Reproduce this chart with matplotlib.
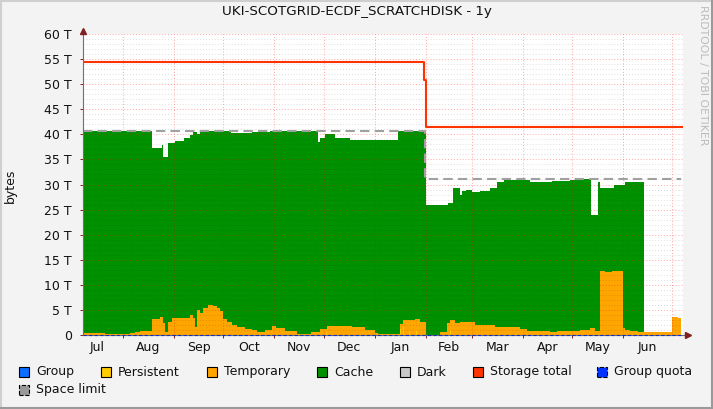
import matplotlib
matplotlib.use('Agg')
import matplotlib.pyplot as plt
from matplotlib.patches import Rectangle
from matplotlib.lines import Line2D

# x values are days counted from 1 Jul (one year window)
months = ['Jul', 'Aug', 'Sep', 'Oct', 'Nov', 'Dec', 'Jan', 'Feb', 'Mar', 'Apr', 'May', 'Jun']
month_start = [0, 31, 62, 92, 123, 153, 184, 215, 243, 274, 304, 335, 365]
month_mid = [15.5, 46.5, 77, 107.5, 138, 168.5, 199.5, 229, 258.5, 289, 319.5, 350]

# top of the Cache area (Cache stacked on Temporary), in T
cache_days = [6.7, 48.7, 54.7, 55.3, 58.4, 62.6, 68.1, 71.8, 73.6, 76.0, 77.8, 79.7, 96.7,
              109.4, 120.4, 149.6, 150.8, 153.8, 159.9, 169.0, 198.2, 215.2, 228.6, 231.7,
              235.9, 237.1, 239.6, 243.2, 248.1, 254.2, 258.4, 262.7, 278.5, 291.8, 302.8,
              308.8, 315.5, 319.8, 321.0, 329.5, 336.2, 347.7]
cache_top = [40.7, 37.3, 37.9, 35.5, 38.3, 38.7, 39.3, 39.9, 40.5, 40.1, 40.5, 40.7, 40.3,
             40.5, 40.7, 38.5, 39.3, 40.1, 39.3, 38.9, 40.7, 25.9, 26.3, 29.3,
             27.9, 28.7, 28.9, 28.5, 28.7, 29.3, 30.5, 30.9, 30.5, 30.7, 30.9,
             31.1, 23.9, 30.5, 29.3, 29.9, 30.5, 0.0]

# top of the Temporary area, in T
temp_days = [6.7, 20.1, 35.3, 38.3, 41.4, 47.4, 48.7, 53.5, 55.3, 56.6, 58.4, 60.8, 71.8,
             73.6, 74.8, 76.0, 77.8, 79.7, 82.7, 85.7, 88.2, 90.0, 91.8, 94.3, 97.3, 100.3,
             105.2, 109.4, 112.5, 117.3, 121.6, 124.0, 129.5, 136.8, 138.6, 145.3, 150.8,
             155.0, 162.9, 170.2, 178.1, 184.2, 186.0, 199.4, 201.3, 208.6, 211.6, 215.2,
             223.8, 228.0, 229.8, 232.9, 235.9, 245.0, 257.2, 263.3, 272.4, 276.7, 290.6,
             294.9, 302.8, 308.8, 314.9, 317.9, 321.0, 324.0, 328.3, 335.0, 336.2, 339.2,
             344.1, 364.7, 368.4, 370.2]
temp_top = [0.35, 0.15, 0.3, 0.6, 0.7, 0.8, 3.2, 3.6, 2.4, 0.6, 2.6, 3.4, 4.0,
            3.4, 1.6, 5.0, 4.4, 5.4, 6.0, 5.8, 5.4, 4.8, 3.2, 2.6, 2.0, 1.6,
            1.2, 1.0, 0.6, 1.0, 1.8, 1.4, 0.8, 0.2, 0.1, 0.6, 1.2,
            1.7, 1.8, 1.6, 1.0, 0.4, 0.2, 2.2, 3.0, 3.2, 2.6, 0.05,
            0.6, 2.4, 3.0, 2.4, 2.6, 2.0, 1.6, 1.5, 1.2, 0.7, 0.5,
            0.8, 0.7, 1.0, 1.4, 0.8, 12.8, 12.6, 12.8, 1.4, 1.0, 0.8,
            0.6, 3.6, 3.4, 0.0]

# Persistent slivers
pers_days = [154.5, 155.0, 199.4, 200.0, 201.3, 201.9, 205.0, 205.6, 209.0, 209.6, 229.8, 230.4]
pers_vals = [0.6, 0.0, 1.2, 0.0, 1.5, 0.0, 0.8, 0.0, 1.0, 0.0, 1.0, 0.0]

total_days = [6.7, 214.0, 215.2, 371.0]
total_vals = [54.5, 50.8, 41.5, 41.5]

limit_days = [6.7, 214.6, 370.0]
limit_vals = [40.7, 31.1, 31.1]

W, H = 713, 409
bg = '#F3F3F3'
fig = plt.figure(figsize=(W / 100, H / 100), dpi=100, facecolor=bg)
ax = fig.add_axes([83 / W, 1 - 335 / H, 600 / W, 301 / H])
ax.set_facecolor('white')
ax.set_xlim(6.7, 371.4)
ax.set_ylim(0, 60)
for s in ax.spines.values():
    s.set_visible(False)

ax.fill_between(cache_days, 0, cache_top, step='post', color='#009100', lw=0, zorder=1)
ax.fill_between(temp_days, 0, temp_top, step='post', color='#FFA500', lw=0, zorder=1.2)
ax.fill_between(pers_days, 0, pers_vals, step='post', color='#FFCC00', lw=0, zorder=1.3)

# grid
for v in range(1, 61):
    if v % 5:
        ax.axhline(v, color=(0, 0, 0, 0.13), lw=0.7, ls=(0, (1, 2)), zorder=2)
    else:
        ax.axhline(v, color=(1, 0, 0, 0.35), lw=0.7, ls=(0, (1, 2)), zorder=2)
for d in month_start[1:]:
    ax.axvline(d, color=(1, 0, 0, 0.35), lw=0.7, ls=(0, (1, 2)), zorder=2)

ax.step(total_days, total_vals, where='post', color='#FF3300', lw=1.5, zorder=3)
ax.step(limit_days, limit_vals, where='post', color='#A0A0A0', lw=1.5,
        dashes=(4.5, 2.5), zorder=3)

# axes with arrows
ax.plot([6.7, 6.7], [0, 60.6], color='#707070', lw=0.8, clip_on=False, zorder=4)
ax.plot([6.7, 374.0], [0, 0], color='#707070', lw=0.8, clip_on=False, zorder=4)
ax.plot([6.7, 370.2], [0, 0], color='#1030C0', lw=0.8, dashes=(3, 2), clip_on=False, zorder=4.5)
ax.plot([6.7], [60.6], marker='^', ms=4, color='#802020', clip_on=False, zorder=5)
ax.plot([374.5], [0], marker='>', ms=4, color='#802020', clip_on=False, zorder=5)

ax.set_yticks(range(0, 61, 5))
ax.set_yticklabels(['0'] + ['%d T' % v for v in range(5, 61, 5)])
ax.set_xticks(month_start[1:-1], minor=False)
ax.set_xticklabels([])
ax.set_xticks(month_mid, minor=True)
ax.set_xticklabels(months, minor=True)
ax.tick_params(axis='y', length=2, width=0.7, color='#802020', labelsize=9, pad=6, labelcolor='#111111')
ax.tick_params(axis='x', which='major', length=2, width=0.7, color='#802020')
ax.tick_params(axis='x', which='minor', length=0, labelsize=9, pad=4, labelcolor='#111111')

fig.text(0.5, 1 - 12 / H, 'UKI-SCOTGRID-ECDF_SCRATCHDISK - 1y', ha='center', va='center',
         fontsize=9.7, color='#111111')
fig.text(10 / W, 1 - 186 / H, 'bytes', rotation=90, ha='center', va='center', fontsize=9,
         color='#111111')
fig.text(703 / W, 1 - 5 / H, 'RRDTOOL / TOBI OETIKER', rotation=270, ha='center', va='top',
         fontsize=7.8, color='#BBBBBB')

# legend
legend_items = [
    ('Group', '#0A6EFF', 19, 372, 'solid'),
    ('Persistent', '#FFCC00', 101, 372, 'solid'),
    ('Temporary', '#FFA500', 207, 372, 'solid'),
    ('Cache', '#009100', 317, 372, 'solid'),
    ('Dark', '#C8C8C8', 400, 372, 'solid'),
    ('Storage total', '#FF3300', 473, 372, 'solid'),
    ('Group quota', '#0033FF', 597, 372, 'dashed'),
    ('Space limit', '#999999', 19, 390, 'dashed'),
]
for name, col, px, py, ls in legend_items:
    fig.patches.append(Rectangle((px / W, 1 - (py + 5) / H), 10 / W, 10 / H,
                                 transform=fig.transFigure, facecolor=col,
                                 edgecolor='black', lw=0.8, ls=ls))
    fig.text((px + 17) / W, 1 - py / H, name, ha='left', va='center', fontsize=9,
             color='#111111')

# frame
fig.lines.append(Line2D([0, 1], [1 - 1 / H, 1 - 1 / H], transform=fig.transFigure, color='#CFCFCF', lw=1.5))
fig.lines.append(Line2D([1 / W, 1 / W], [0, 1], transform=fig.transFigure, color='#CFCFCF', lw=1.5))
fig.lines.append(Line2D([0, 1], [1 / H, 1 / H], transform=fig.transFigure, color='#9A9A9A', lw=1.5))
fig.lines.append(Line2D([1 - 1 / W, 1 - 1 / W], [0, 1], transform=fig.transFigure, color='#9A9A9A', lw=1.5))

fig.savefig('out.png', dpi=100, facecolor=bg)
